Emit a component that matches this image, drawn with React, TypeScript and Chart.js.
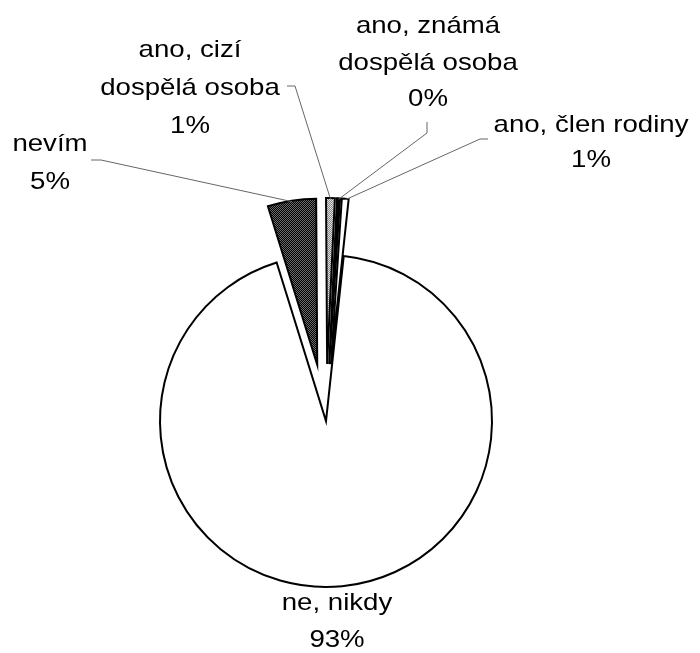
import { useEffect, useRef } from "react";
import { Chart, registerables } from "chart.js";

Chart.register(...registerables);

// ---- data (clockwise from the start angle) ----
const categories: string[][] = [
  ["nevím"],
  ["ano, cizí", "dospělá osoba"],
  ["ano, známá", "dospělá osoba"],
  ["ano, člen rodiny"],
  ["ne, nikdy"],
];
const shares: number[] = [4.7, 0.85, 0.3, 0.66, 93.49];
const percentLabels: string[] = ["5%", "1%", "0%", "1%", "93%"];

// ---- styles ----
const exploded = [true, true, true, true, false];
const explodeDistance = 57;
const labelStyles = [
  { x: 50, y: 151, lh: 38, lead: [[91, 160], [101, 160]] },
  { x: 190, y: 57, lh: 38, lead: [[287, 86], [295, 86]] },
  { x: 428, y: 33, lh: 36.5, lead: [[427, 122], [427, 133]] },
  { x: 591, y: 132, lh: 35, lead: [[488, 139], [480, 139]] },
  { x: 337, y: 610, lh: 37, lead: null as null | number[][] },
];

function makePattern(a: string, b: string): CanvasPattern | string {
  const c = document.createElement("canvas");
  c.width = 2;
  c.height = 2;
  const g = c.getContext("2d");
  if (!g) return a;
  g.fillStyle = a;
  g.fillRect(0, 0, 2, 2);
  g.fillStyle = b;
  g.fillRect(0, 0, 1, 1);
  g.fillRect(1, 1, 1, 1);
  const ctx = document.createElement("canvas").getContext("2d");
  const p = ctx ? ctx.createPattern(c, "repeat") : null;
  return p || a;
}

const explodePlugin = {
  id: "explodeSlices",
  afterDatasetsUpdate(chart: any) {
    const meta = chart.getDatasetMeta(0);
    meta.data.forEach((arc: any, i: number) => {
      if (!exploded[i]) return;
      const mid = (arc.startAngle + arc.endAngle) / 2;
      arc.x += Math.cos(mid) * explodeDistance;
      arc.y += Math.sin(mid) * explodeDistance;
    });
  },
};

const labelPlugin = {
  id: "sliceLabels",
  afterDraw(chart: any) {
    const ctx: CanvasRenderingContext2D = chart.ctx;
    const meta = chart.getDatasetMeta(0);
    ctx.save();
    meta.data.forEach((arc: any, i: number) => {
      const st = labelStyles[i];
      if (st.lead) {
        const mid = (arc.startAngle + arc.endAngle) / 2;
        const r = arc.outerRadius - 1;
        const ex = arc.x + Math.cos(mid) * r;
        const ey = arc.y + Math.sin(mid) * r;
        ctx.beginPath();
        ctx.strokeStyle = "#666";
        ctx.lineWidth = 1;
        ctx.moveTo(st.lead[0][0], st.lead[0][1]);
        ctx.lineTo(st.lead[1][0], st.lead[1][1]);
        ctx.lineTo(ex, ey);
        ctx.stroke();
      }
      const lines = [...categories[i], percentLabels[i]];
      ctx.fillStyle = "#000";
      ctx.font = '24px "Liberation Sans", Arial, sans-serif';
      ctx.textAlign = "center";
      ctx.textBaseline = "alphabetic";
      lines.forEach((t, k) => {
        ctx.save();
        ctx.translate(st.x, st.y + k * st.lh);
        ctx.scale(1.15, 1);
        ctx.fillText(t, 0, 0);
        ctx.restore();
      });
    });
    ctx.restore();
  },
};

export default function App() {
  const ref = useRef<HTMLCanvasElement | null>(null);
  useEffect(() => {
    if (!ref.current) return;
    const dark = makePattern("#000", "#6a6a6a");
    const light = makePattern("#8a8a8a", "#e0e0e0");
    const chart = new Chart(ref.current, {
      type: "pie",
      data: {
        labels: categories,
        datasets: [
          {
            data: shares,
            backgroundColor: [dark, light, "#000", "#fff", "#fff"] as any,
            borderColor: "#000",
            borderWidth: 2,
            borderJoinStyle: "miter",
          } as any,
        ],
      },
      options: {
        animation: false,
        responsive: false,
        rotation: -17.3,
        radius: 166,
        layout: { padding: { left: 0, right: 48, top: 189, bottom: 0 } },
        plugins: { legend: { display: false }, tooltip: { enabled: false } },
        events: [],
      } as any,
      plugins: [explodePlugin, labelPlugin],
    });
    return () => chart.destroy();
  }, []);
  return (
    <div style={{ position: "absolute", left: 0, top: 0, width: 700, height: 653, background: "#fff" }}>
      <canvas ref={ref} width={700} height={653} style={{ display: "block" }} />
    </div>
  );
}
